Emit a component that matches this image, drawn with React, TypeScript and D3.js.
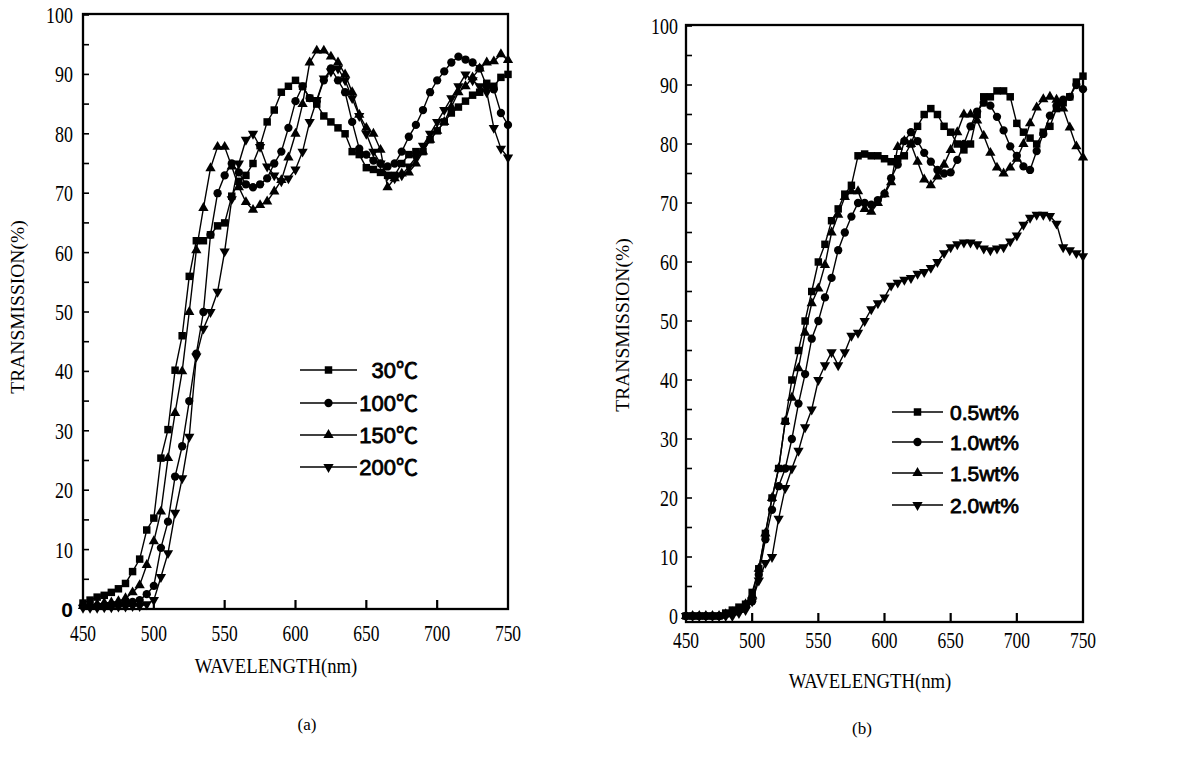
import React, { useRef, useEffect } from 'react';
import * as d3 from 'd3';

// wavelength samples (nm), shared by every curve
const WAVELENGTH = [
  450, 455, 460, 465, 470, 475, 480, 485, 490, 495,
  500, 505, 510, 515, 520, 525, 530, 535, 540, 545,
  550, 555, 560, 565, 570, 575, 580, 585, 590, 595,
  600, 605, 610, 615, 620, 625, 630, 635, 640, 645,
  650, 655, 660, 665, 670, 675, 680, 685, 690, 695,
  700, 705, 710, 715, 720, 725, 730, 735, 740, 745,
  750,
];

const X_TICKS = [450, 500, 550, 600, 650, 700, 750];
const Y_TICKS = [0, 10, 20, 30, 40, 50, 60, 70, 80, 90, 100];

// (a) annealing temperature
const T30 = [
  1, 1.5, 2, 2.3, 2.8, 3.4, 4.3, 6.3, 8.4, 13.3,
  15.3, 25.4, 30.2, 40.2, 46, 56, 62, 62, 63, 64.5,
  65, 69.5, 72, 73, 75, 78, 82, 84, 87, 88,
  89, 88, 86, 85, 83, 82, 81, 80, 77, 76.5,
  74.3, 74, 73.5, 73, 73, 75, 76.5, 77, 77, 79,
  80.5, 82, 83.5, 84.5, 85.5, 86.5, 87, 88.5, 88, 89.5,
  90,
];
const T100 = [
  0.5, 0.5, 0.5, 0.5, 0.7, 0.8, 1, 1.2, 1.5, 2.5,
  3.9, 10.3, 14.7, 22.3, 27.4, 35, 43, 50, 63, 70,
  73, 75, 73.5, 71.5, 71, 71.5, 72.5, 75, 77, 81,
  85.5, 88, 86, 85.5, 89, 91, 89, 87, 82, 77.5,
  76.5, 75.5, 75, 74.5, 75, 77, 79.5, 81.5, 84, 87,
  89, 90.5, 92, 93, 92.5, 92, 91, 88, 87.5, 83.5,
  81.5,
];
const T150 = [
  0.5, 0.6, 0.8, 1, 1.1, 1.3, 1.8, 2.8, 4, 7.4,
  11.4, 16.4, 25.4, 33, 40, 50, 60.4, 67.5, 74.2, 77.8,
  77.8, 74.5, 71, 68.5, 67.2, 68, 68.6, 70.3, 72.2, 76,
  80, 85, 92, 94, 94, 93, 92, 90, 87, 83.2,
  81, 80, 77.3, 71, 72.5, 73.3, 73.5, 75, 77, 79,
  80.5, 82, 84.5, 87, 88, 89.5, 91, 92, 92.2, 93.4,
  92.4,
];
const T200 = [
  0.2, 0.2, 0.2, 0.3, 0.3, 0.4, 0.4, 0.5, 0.5, 0.8,
  1.5, 5.4, 9.4, 16.2, 22, 29, 42.5, 47.2, 50, 53.4,
  60.2, 69, 75, 79, 80, 77.8, 74.5, 73, 72, 72.5,
  74, 77, 82, 85.7, 89.3, 90.5, 91, 89, 86, 83,
  80, 77, 75, 73, 72.5, 73, 74.5, 76, 78, 80,
  82, 84, 86, 88, 90, 89, 88, 87, 81, 77.5,
  76,
];

// (b) dopant concentration
const W05 = [
  0, 0, 0, 0, 0, 0, 0.5, 1, 1.5, 2,
  4, 8, 14, 20, 25, 33, 40, 45, 50, 55,
  60, 63, 67, 69, 71.5, 73, 78, 78.3, 78, 78,
  77.5, 77, 77.5, 78, 80, 83, 85, 86, 85, 83,
  82, 80, 79, 80, 85, 88, 88, 89, 89, 88,
  83.5, 82, 81, 80, 82, 83, 86, 87, 88, 90.5,
  91.5,
];
const W10 = [
  0, 0, 0, 0, 0, 0, 0.3, 0.6, 1, 1.5,
  2.5, 7, 13, 18, 22, 25, 30, 36, 41, 47,
  50, 54, 57.3, 62, 65, 67.7, 70, 70, 69.7, 70.5,
  71.6, 74.2, 76.5, 80.5, 82, 80.5, 78.5, 77, 75.6, 75,
  75.2, 77.3, 80, 83, 85.5, 87, 86.5, 84.6, 82.3, 79.6,
  78, 76.2, 75.6, 78.8, 81.7, 84.8, 86.5, 87.5, 88, 90,
  89.3,
];
const W15 = [
  0, 0, 0, 0, 0, 0, 0.3, 0.6, 1, 2,
  3.5, 8, 14, 20, 25, 33, 37, 42, 48, 53,
  55.5, 59.5, 65, 68, 71, 72, 72, 69, 68.5, 70,
  71.5, 73.5, 79.5, 80.5, 80, 77, 74, 73, 74.5, 76.5,
  79, 82, 85, 85, 84, 81.4, 78.5, 76, 75, 76,
  77.5, 80, 83.5, 86.2, 87.6, 88, 87.5, 86, 82.8, 79.6,
  77.7,
];
const W20 = [
  0, 0, 0, 0, 0, 0, 0, 0, 0.5, 1,
  2.5, 6, 9, 10, 16.5, 21.7, 25, 28, 32, 35,
  40, 42.5, 44.7, 42.5, 44.7, 47.5, 48, 50, 52, 53,
  54, 56, 56.5, 57, 57.3, 58, 58.3, 59, 60, 61.5,
  62.5, 63, 63.3, 63.3, 63, 62.3, 62, 62.3, 62.5, 63.5,
  64.5, 66.3, 67.5, 68, 68, 67.8, 66.5, 62.5, 62, 61.5,
  61,
];

const LABELS_A = ['30℃', '100℃', '150℃', '200℃'];
const LABELS_B = ['0.5wt%', '1.0wt%', '1.5wt%', '2.0wt%'];
const SHAPES = ['square', 'circle', 'triangle', 'triangleDown'];

const symbolPath = (shape: string) => {
  if (shape === 'square') return d3.symbol().type(d3.symbolSquare).size(56)();
  if (shape === 'circle') return d3.symbol().type(d3.symbolCircle).size(54)();
  return d3.symbol().type(d3.symbolTriangle).size(46)();
};

const drawPanel = (svg: any, p: any) => {
  const x = d3.scaleLinear().domain([450, 750]).range([p.left, p.right]);
  const y = d3.scaleLinear().domain([0, 100]).range([p.zero, p.hundred]);
  const serif = '"Liberation Serif", "DejaVu Serif", serif';
  const sans = '"Liberation Sans", Arial, "Noto Sans CJK SC", sans-serif';

  const g = svg.append('g');

  // series
  p.series.forEach((values: number[], i: number) => {
    const pts = WAVELENGTH.map((w, j) => [x(w), y(values[j])]);
    g.append('path')
      .attr('d', d3.line()(pts as any))
      .attr('fill', 'none')
      .attr('stroke', '#000')
      .attr('stroke-width', 1.4);
    const shape = SHAPES[i];
    g.selectAll(null)
      .data(pts)
      .enter()
      .append('path')
      .attr('d', symbolPath(shape))
      .attr('transform', (d: number[]) =>
        `translate(${d[0]},${d[1]})${shape === 'triangleDown' ? ' rotate(180)' : ''}`)
      .attr('fill', '#000');
  });

  // frame
  g.append('rect')
    .attr('x', p.left)
    .attr('y', p.top)
    .attr('width', p.right - p.left)
    .attr('height', p.bottom - p.top)
    .attr('fill', 'none')
    .attr('stroke', '#000')
    .attr('stroke-width', 2.3);

  // y ticks every 5, inward
  d3.range(0, 101, 5).forEach((v) => {
    g.append('line')
      .attr('x1', p.left).attr('x2', p.left + 6)
      .attr('y1', y(v)).attr('y2', y(v))
      .attr('stroke', '#000').attr('stroke-width', 1.6);
  });
  // x ticks, inward from bottom
  X_TICKS.slice(1, -1).forEach((w) => {
    g.append('line')
      .attr('x1', x(w)).attr('x2', x(w))
      .attr('y1', p.bottom).attr('y2', p.bottom - 9)
      .attr('stroke', '#000').attr('stroke-width', 2.2);
  });

  // y tick labels
  Y_TICKS.forEach((v) => {
    const zeroSans = p.zeroSans && v === 0;
    g.append('text')
      .text(v)
      .attr('transform', `translate(${p.yLabelRight},${y(v) + 8}) scale(${zeroSans ? 1 : 0.78},1)`)
      .attr('text-anchor', 'end')
      .style('font-family', zeroSans ? sans : serif)
      .style('font-weight', zeroSans ? 'bold' : 'normal')
      .style('font-size', zeroSans ? '21px' : '23px');
  });
  // x tick labels
  X_TICKS.forEach((w) => {
    g.append('text')
      .text(w)
      .attr('transform', `translate(${x(w)},${p.xLabelBase}) scale(0.76,1)`)
      .attr('text-anchor', 'middle')
      .style('font-family', serif)
      .style('font-size', '23px');
  });

  // axis titles
  g.append('text')
    .text('WAVELENGTH(nm)')
    .attr('transform', `translate(${p.xTitle[0]},${p.xTitle[1]}) scale(0.85,1)`)
    .attr('text-anchor', 'middle')
    .style('font-family', serif)
    .style('font-size', '22px');
  g.append('text')
    .text('TRANSMISSION(%)')
    .attr('transform', `translate(${p.yTitle[0]},${p.yTitle[1]}) rotate(-90)`)
    .attr('text-anchor', 'middle')
    .style('font-family', serif)
    .style('font-size', '19.5px');
  g.append('text')
    .text(p.caption)
    .attr('x', p.captionPos[0])
    .attr('y', p.captionPos[1])
    .attr('text-anchor', 'middle')
    .style('font-family', serif)
    .style('font-size', '17px');

  // legend
  p.labels.forEach((label: string, i: number) => {
    const ly = p.legend.rows[i];
    g.append('line')
      .attr('x1', p.legend.x1).attr('x2', p.legend.x2)
      .attr('y1', ly).attr('y2', ly)
      .attr('stroke', '#000').attr('stroke-width', 1.5);
    g.append('path')
      .attr('d', symbolPath(SHAPES[i]))
      .attr('transform', `translate(${(p.legend.x1 + p.legend.x2) / 2},${ly})${SHAPES[i] === 'triangleDown' ? ' rotate(180)' : ''}`)
      .attr('fill', '#000');
    g.append('text')
      .text(label)
      .attr('x', p.legend.textX)
      .attr('y', ly + 8)
      .attr('text-anchor', p.legend.anchor)
      .style('font-family', sans)
      .style('font-size', p.legend.fontSize)
      .style('stroke', '#000')
      .style('stroke-width', 0.8);
  });
};

const App = () => {
  const svgRef = useRef<SVGSVGElement>(null);

  useEffect(() => {
    const svg = d3.select(svgRef.current);
    svg.selectAll('*').remove();

    drawPanel(svg, {
      left: 83, right: 508, zero: 609, hundred: 15,
      top: 14, bottom: 609,
      series: [T30, T100, T150, T200],
      labels: LABELS_A,
      zeroSans: true,
      yLabelRight: 73, xLabelBase: 641,
      xTitle: [276, 673], yTitle: [24, 307],
      caption: '(a)', captionPos: [307, 730],
      legend: { rows: [370, 403, 435, 467], x1: 300, x2: 357, textX: 418, anchor: 'end', fontSize: '22px' },
    });

    drawPanel(svg, {
      left: 686, right: 1083, zero: 616, hundred: 26,
      top: 25, bottom: 622,
      series: [W05, W10, W15, W20],
      labels: LABELS_B,
      zeroSans: false,
      yLabelRight: 678, xLabelBase: 648,
      xTitle: [870, 688], yTitle: [629, 325],
      caption: '(b)', captionPos: [862, 734],
      legend: { rows: [412, 442, 473, 505], x1: 892, x2: 943, textX: 950, anchor: 'start', fontSize: '21px' },
    });
  }, []);

  return (
    <svg
      ref={svgRef}
      width={1180}
      height={757}
      style={{ position: 'absolute', left: 0, top: 0, background: '#fff' }}
    />
  );
};

export default App;
